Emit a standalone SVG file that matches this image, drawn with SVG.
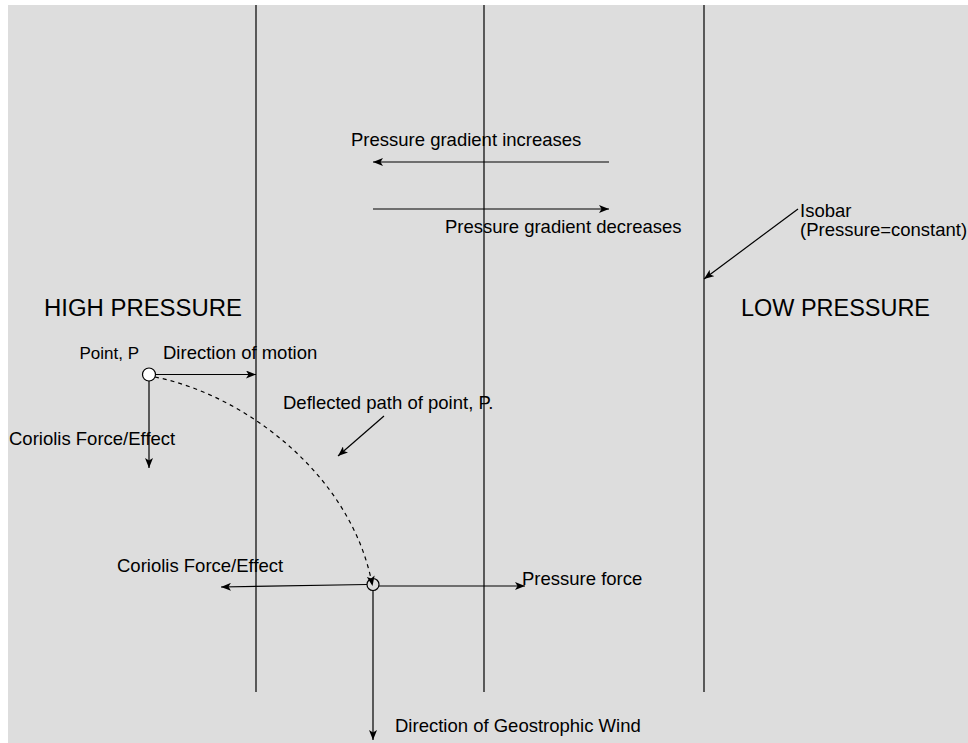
<svg xmlns="http://www.w3.org/2000/svg" width="968" height="743" viewBox="0 0 968 743">
<defs>
<marker id="ah" viewBox="0 0 10 8" refX="10" refY="4" markerWidth="10" markerHeight="8" markerUnits="userSpaceOnUse" orient="auto">
<path d="M0,0 L10,4 L0,8 L2.5,4 Z" fill="#000"/>
</marker>
</defs>
<style>
.t{font-family:"Liberation Sans",Arial,Helvetica,sans-serif;font-size:18.5px;fill:#000}
.big{font-family:"Liberation Sans",Arial,Helvetica,sans-serif;font-size:23.5px;fill:#000}
.ln{stroke:#000;stroke-width:1.2;fill:none}
.ar{stroke:#000;stroke-width:1.2;fill:none;marker-end:url(#ah)}
</style>
<rect x="8" y="5" width="960" height="738" fill="#dddddd"/>
<g id="isobars">
<line class="ln" x1="256" y1="5" x2="256" y2="692"/>
<line class="ln" x1="484" y1="5" x2="484" y2="692"/>
<line class="ln" x1="704" y1="5" x2="704" y2="692"/>
</g>
<g id="connectors">
<line class="ar" x1="609" y1="162" x2="373" y2="162"/>
<line class="ar" x1="373" y1="209" x2="609" y2="209"/>
<line class="ar" x1="798" y1="209" x2="704" y2="279"/>
<line class="ar" x1="156" y1="374.5" x2="256" y2="374.5"/>
<line class="ar" x1="149" y1="381" x2="149" y2="468"/>
<path class="ar" d="M155,377 C245,395 352,475 372.5,586" stroke-dasharray="4 4"/>
<line class="ar" x1="384" y1="416" x2="338" y2="456"/>
<line class="ar" x1="367" y1="584.5" x2="221" y2="587"/>
<line class="ar" x1="379" y1="586" x2="525" y2="586"/>
<line class="ar" x1="373" y1="590.5" x2="373" y2="740"/>
</g>
<g id="pointP">
<circle cx="149" cy="374.5" r="6.5" fill="#fff" stroke="#000" stroke-width="1.2"/>
<text class="t" x="139" y="359" text-anchor="end" style="font-size:17px">Point, P</text>
</g>
<g id="pointEnd">
<circle cx="373" cy="584.5" r="6" fill="none" stroke="#000" stroke-width="1.2"/>
</g>
<g id="labels">
<text class="t" x="351" y="146">Pressure gradient increases</text>
<text class="t" x="445" y="233">Pressure gradient decreases</text>
<text class="t" x="800" y="217">Isobar</text>
<text class="t" x="800" y="236">(Pressure=constant)</text>
<text class="big" x="44" y="316" textLength="198" lengthAdjust="spacingAndGlyphs">HIGH PRESSURE</text>
<text class="big" x="741" y="316" textLength="189" lengthAdjust="spacingAndGlyphs">LOW PRESSURE</text>
<text class="t" x="163" y="359">Direction of motion</text>
<text class="t" x="9" y="445">Coriolis Force/Effect</text>
<text class="t" x="283" y="409">Deflected path of point, P.</text>
<text class="t" x="117" y="572">Coriolis Force/Effect</text>
<text class="t" x="522" y="585">Pressure force</text>
<text class="t" x="395" y="732">Direction of Geostrophic Wind</text>
</g>
</svg>
